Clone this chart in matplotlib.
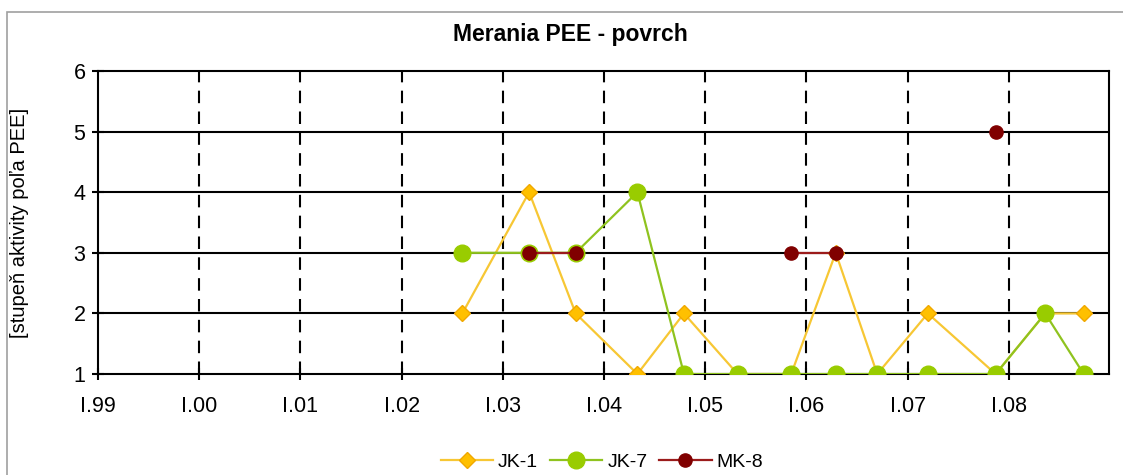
import numpy as np
import matplotlib.pyplot as plt
from matplotlib.patches import Rectangle
from matplotlib.ticker import FixedLocator, FuncFormatter

# measurement dates (decimal years)
dates = [2002.60, 2003.26, 2003.72, 2004.33, 2004.79, 2005.32, 2005.85,
         2006.29, 2006.70, 2007.20, 2007.87, 2008.36, 2008.74]
jk1 = [2, 4, 2, 1, 2, 1, 1, 3, 1, 2, 1, 2, 2]
jk7 = [3, 3, 3, 4, 1, 1, 1, 1, 1, 1, 1, 2, 1]
mk8 = [np.nan, 3, 3, np.nan, np.nan, np.nan, 3, 3, np.nan, np.nan, 5, np.nan, np.nan]
years = list(range(1999, 2009))


def main():
    plt.rcParams['font.family'] = ['Liberation Sans', 'DejaVu Sans']
    fig = plt.figure(figsize=(11.23, 4.75), dpi=100)
    ax = fig.add_axes([0.0873, 0.2126, 0.9002, 0.6379])

    # outer chart border
    fig.patches.append(Rectangle((7 / 1123, -0.1), 1.2, 1 - 12 / 475 + 0.1,
                                 transform=fig.transFigure, fill=False,
                                 edgecolor='#a0a0a0', linewidth=1.2))

    ax.plot(dates, jk1, color='#f7c734', linewidth=1.6, marker='D', markersize=8.5,
            markerfacecolor='#ffc000', markeredgecolor='#f0a800', label='JK-1', zorder=3)
    ax.plot(dates, jk7, color='#8fc31f', linewidth=1.6, marker='o', markersize=12,
            markerfacecolor='#99cc00', markeredgecolor='#99cc00', label='JK-7', zorder=4)
    ax.plot(dates, mk8, color='#9b1b1b', linewidth=1.6, marker='o', markersize=9.5,
            markerfacecolor='#800000', markeredgecolor='#800000', label='MK-8', zorder=5)

    ax.set_xlim(1999, 2008.99)
    ax.set_ylim(1, 6)
    ax.xaxis.set_major_locator(FixedLocator(years))
    ax.xaxis.set_major_formatter(FuncFormatter(lambda v, p: 'I.%02d' % (int(round(v)) % 100)))
    ax.set_yticks([1, 2, 3, 4, 5, 6])

    for y in [2, 3, 4, 5]:
        ax.axhline(y, color='black', linewidth=1.5, zorder=1)
    for x in years[1:]:
        ax.axvline(x, color='black', linewidth=1.5, linestyle=(0, (6, 4)), zorder=1)

    for s in ax.spines.values():
        s.set_linewidth(1.5)
    ax.tick_params(direction='inout', length=8, width=1.5, labelsize=15.5, pad=5)
    ax.tick_params(axis='x', pad=12)

    fig.suptitle('Merania PEE - povrch', x=0.508, y=1 - 35 / 475, va='center',
                 fontsize=16.5, fontweight='bold')
    ax.set_ylabel('[stupeň aktivity poľa PEE]', fontsize=14.5)
    ax.yaxis.set_label_coords(-0.068, 0.5)

    fig.legend(loc='center', bbox_to_anchor=(0.536, 1 - 462 / 475), ncol=3, frameon=False,
               fontsize=14, handlelength=2.7, columnspacing=0.6, handletextpad=0.25)

    fig.savefig('out.png', dpi=100, facecolor='white')


if __name__ == '__main__':
    main()
